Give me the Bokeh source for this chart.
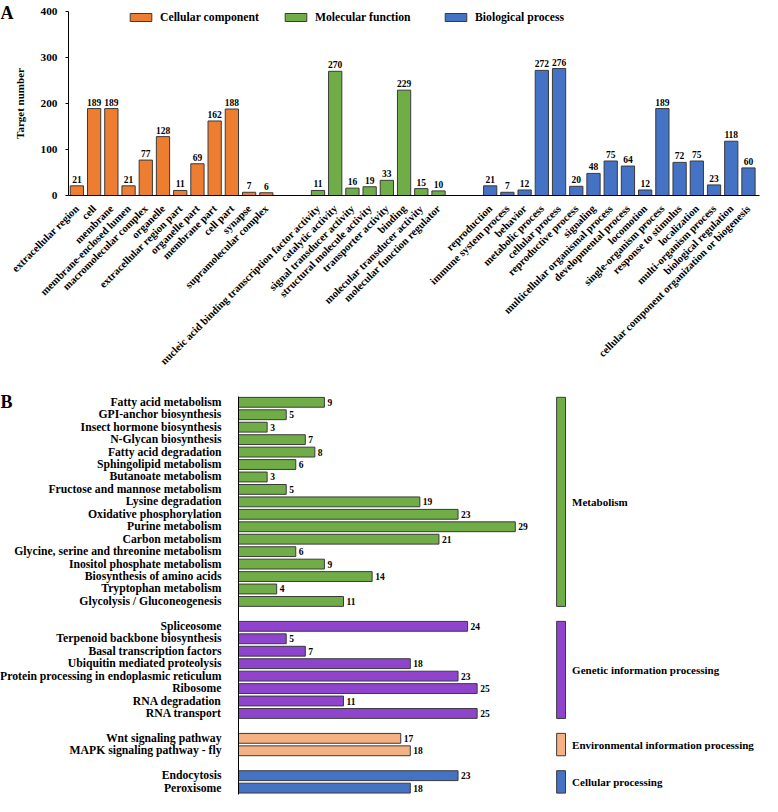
import math
from bokeh.plotting import figure
from bokeh.models import FixedTicker, Legend, LegendItem, Range1d, LinearAxis, AllLabels
from bokeh.embed import file_html
from bokeh.resources import INLINE
from bokeh.core.properties import value

# ---------------- data: panel A (GO) ----------------
cc_terms = ["extracellular region", "cell", "membrane", "membrane-enclosed lumen",
            "macromolecular complex", "organelle", "extracellular region part",
            "organelle part", "membrane part", "cell part", "synapse",
            "supramolecular complex"]
cc_counts = [21, 189, 189, 21, 77, 128, 11, 69, 162, 188, 7, 6]

mf_terms = ["nucleic acid binding transcription factor activity", "catalytic activity",
            "signal transducer activity", "structural molecule activity",
            "transporter activity", "binding", "molecular transducer activity",
            "molecular function regulator"]
mf_counts = [11, 270, 16, 19, 33, 229, 15, 10]

bp_terms = ["reproduction", "immune system process", "behavior", "metabolic process",
            "cellular process", "reproductive process", "signaling",
            "multicellular organismal process", "developmental process", "locomotion",
            "single-organism process", "response to stimulus", "localization",
            "multi-organism process", "biological regulation",
            "cellular component organization or biogenesis"]
bp_counts = [21, 7, 12, 272, 276, 20, 48, 75, 64, 12, 189, 72, 75, 23, 118, 60]

go_groups = ["Cellular component", "Molecular function", "Biological process"]
y_ticks_a = [0, 100, 200, 300, 400]

# ---------------- data: panel B (KEGG) ----------------
met_terms = ["Fatty acid metabolism", "GPI-anchor biosynthesis", "Insect hormone biosynthesis",
             "N-Glycan biosynthesis", "Fatty acid degradation", "Sphingolipid metabolism",
             "Butanoate metabolism", "Fructose and mannose metabolism", "Lysine degradation",
             "Oxidative phosphorylation", "Purine metabolism", "Carbon metabolism",
             "Glycine, serine and threonine metabolism", "Inositol phosphate metabolism",
             "Biosynthesis of amino acids", "Tryptophan metabolism",
             "Glycolysis / Gluconeogenesis"]
met_counts = [9, 5, 3, 7, 8, 6, 3, 5, 19, 23, 29, 21, 6, 9, 14, 4, 11]

gen_terms = ["Spliceosome", "Terpenoid backbone biosynthesis", "Basal transcription factors",
             "Ubiquitin mediated proteolysis", "Protein processing in endoplasmic reticulum",
             "Ribosome", "RNA degradation", "RNA transport"]
gen_counts = [24, 5, 7, 18, 23, 25, 11, 25]

env_terms = ["Wnt signaling pathway", "MAPK signaling pathway - fly"]
env_counts = [17, 18]

cel_terms = ["Endocytosis", "Peroxisome"]
cel_counts = [23, 18]

kegg_groups = ["Metabolism", "Genetic information processing",
               "Environmental information processing", "Cellular processing"]

panel_letters = ["A", "B"]

# ---------------- styles ----------------
FONT = "Liberation Serif"
GO_COLORS = ["#ED7D31", "#70AD47", "#4472C4"]
KEGG_COLORS = ["#70AD47", "#8E44CC", "#F4B183", "#4472C4"]
EDGE = "#3a3a3a"

# ================= panel A layout (pixels inside the canvas) =================
W, HA = 762, 387
AX_LEFT_PX, AX_RIGHT_PX = 68, 759
SLOT0_PX, SLOT_PX = 76.4, 17.22
Y0_PY, YTOP_PY, YMAX = 195, 11, 400
PPU = (Y0_PY - YTOP_PY) / YMAX


def ax_x(px):
    return (px - SLOT0_PX) / SLOT_PX


def ax_y(py):
    return (Y0_PY - py) / PPU


p = figure(width=W, height=HA, output_backend="svg", toolbar_location=None,
           x_range=Range1d(ax_x(0), ax_x(W)), y_range=Range1d(ax_y(HA), ax_y(0)),
           min_border=0, x_axis_location=None, y_axis_location=None)
p.outline_line_color = None
p.grid.visible = False

go_sets = [(cc_terms, cc_counts), (mf_terms, mf_counts), (bp_terms, bp_counts)]
GAP = 2
pos = 0
all_pos, all_terms = [], []
renderers = []
for (terms, counts), col in zip(go_sets, GO_COLORS):
    xs = list(range(pos, pos + len(terms)))
    r = p.vbar(x=xs, top=counts, width=0.77, fill_color=col, line_color=EDGE, line_width=1)
    renderers.append(r)
    p.text(x=xs, y=counts, text=[str(c) for c in counts], y_offset=-3,
           text_align="center", text_baseline="bottom",
           text_font=value(FONT), text_font_style="bold", text_font_size="9.5px",
           text_color="black")
    all_pos += xs
    all_terms += terms
    pos += len(terms) + GAP

xa = LinearAxis(fixed_location=0, bounds=(ax_x(AX_LEFT_PX), ax_x(AX_RIGHT_PX)),
                ticker=FixedTicker(ticks=all_pos),
                major_label_overrides={x: t for x, t in zip(all_pos, all_terms)},
                major_label_orientation=math.pi / 4,
                major_label_policy=AllLabels(),
                major_tick_line_color=None, minor_tick_line_color=None,
                major_label_standoff=5,
                major_label_text_font=FONT, major_label_text_font_style="bold",
                major_label_text_font_size="10.7px", major_label_text_color="black",
                axis_line_color="black")
p.add_layout(xa, "below")

ya = LinearAxis(fixed_location=ax_x(AX_LEFT_PX), bounds=(-0.0001, YMAX),
                ticker=FixedTicker(ticks=y_ticks_a),
                major_label_policy=AllLabels(),
                major_tick_out=3, major_tick_in=0, minor_tick_line_color=None,
                major_label_standoff=8,
                major_label_text_font=FONT, major_label_text_font_style="bold",
                major_label_text_font_size="11.3px", major_label_text_color="black",
                axis_label="Target number", axis_label_text_font=FONT,
                axis_label_text_font_style="bold", axis_label_text_font_size="11px",
                axis_label_text_color="black", axis_label_standoff=12,
                axis_line_color="black")
p.add_layout(ya, "left")

legend_px = [127, 282, 442]
LEG_BOTTOM_PY = 23.7
for name, r, lx in zip(go_groups, renderers, legend_px):
    lg = Legend(items=[LegendItem(label=name, renderers=[r])],
                location=(lx, HA - LEG_BOTTOM_PY), orientation="horizontal",
                glyph_width=27, glyph_height=10, label_standoff=6,
                label_height=10, padding=0, margin=0, spacing=0,
                border_line_color=None, background_fill_alpha=0,
                label_text_font=FONT, label_text_font_style="bold",
                label_text_font_size="11.7px", label_text_color="black")
    p.add_layout(lg, "center")

p.text(x=[ax_x(0)], y=[ax_y(2)], text=[panel_letters[0]], text_align="left",
       text_baseline="top", text_font=value(FONT), text_font_style="bold",
       text_font_size="18px", text_color="black")

# ================= panel B layout =================
HB = 796 - HA
BAX_PX, B_PX_PER_UNIT = 238, 9.545
ROW0_PY, ROW_PX = 14.8, 12.446


def bx(px):
    return (px - BAX_PX) / B_PX_PER_UNIT


def by(py):
    return (py - ROW0_PY) / ROW_PX


kegg_sets = [(met_terms, met_counts), (gen_terms, gen_counts),
             (env_terms, env_counts), (cel_terms, cel_counts)]
n_rows = sum(len(t) for t, _ in kegg_sets) + len(kegg_sets) - 1

b = figure(width=W, height=HB, output_backend="svg", toolbar_location=None,
           x_range=Range1d(bx(0), bx(W)), y_range=Range1d(by(HB), by(0)),
           min_border=0, x_axis_location=None, y_axis_location=None)
b.outline_line_color = None
b.grid.visible = False

GROUP_BAR_LEFT, GROUP_BAR_RIGHT, GROUP_LABEL_X = 33.33, 34.26, 34.95
row = 0
b_pos, b_terms = [], []
for (terms, counts), col, gname in zip(kegg_sets, KEGG_COLORS, kegg_groups):
    ys = list(range(row, row + len(terms)))
    b.hbar(y=ys, left=0, right=counts, height=0.79, fill_color=col,
           line_color=EDGE, line_width=1)
    b.text(x=counts, y=ys, text=[str(c) for c in counts], x_offset=3,
           text_align="left", text_baseline="middle",
           text_font=value(FONT), text_font_style="bold", text_font_size="9.5px",
           text_color="black")
    b.quad(left=[GROUP_BAR_LEFT], right=[GROUP_BAR_RIGHT],
           top=[ys[0] - 0.4], bottom=[ys[-1] + 0.4],
           fill_color=col, line_color=EDGE, line_width=1)
    b.text(x=[GROUP_LABEL_X], y=[(ys[0] + ys[-1]) / 2], text=[gname],
           text_align="left", text_baseline="middle",
           text_font=value(FONT), text_font_style="bold", text_font_size="11px",
           text_color="black")
    b_pos += ys
    b_terms += terms
    row += len(terms) + 1

yb = LinearAxis(fixed_location=0, bounds=(-0.5, n_rows - 0.5),
                ticker=FixedTicker(ticks=b_pos),
                major_label_overrides={y: t for y, t in zip(b_pos, b_terms)},
                major_label_policy=AllLabels(),
                major_tick_line_color=None, minor_tick_line_color=None,
                major_label_standoff=11,
                major_label_text_font=FONT, major_label_text_font_style="bold",
                major_label_text_font_size="11.7px", major_label_text_color="black",
                axis_line_color="black")
b.add_layout(yb, "left")

b.text(x=[bx(0)], y=[by(4)], text=[panel_letters[1]], text_align="left",
       text_baseline="top", text_font=value(FONT), text_font_style="bold",
       text_font_size="18px", text_color="black")

open("out.html", "w").write(file_html([p, b], INLINE))
